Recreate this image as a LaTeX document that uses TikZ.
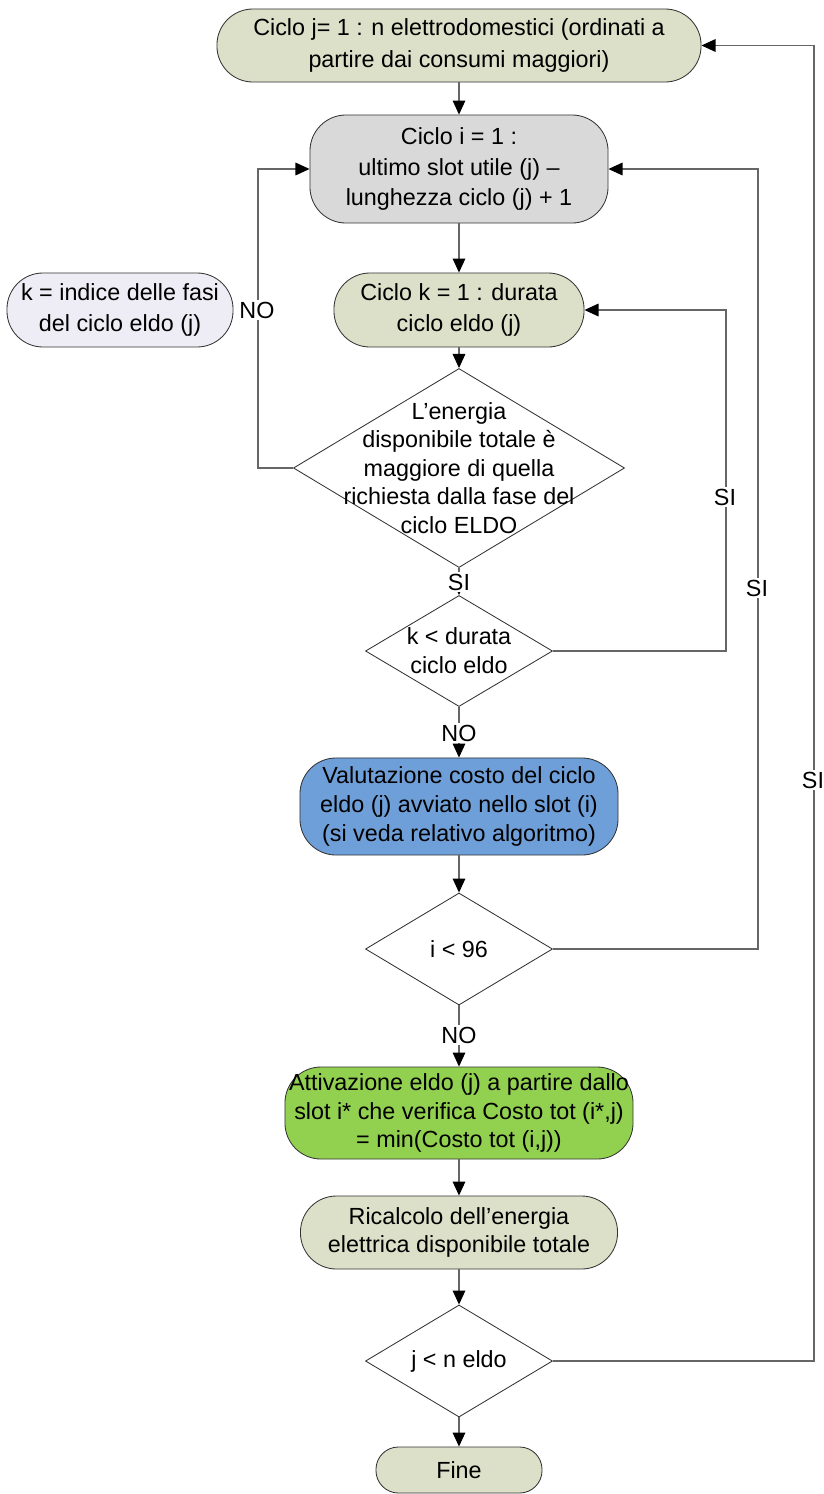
\documentclass[tikz,border=0pt]{standalone}
\usepackage{fontspec}
\setmainfont{Liberation Sans}
\usetikzlibrary{shapes.geometric,arrows.meta}

\definecolor{ciclo}{RGB}{221,224,200}
\definecolor{grigio}{RGB}{217,217,217}
\definecolor{nota}{RGB}{238,237,245}
\definecolor{blu}{RGB}{111,159,216}
\definecolor{verde}{RGB}{146,208,80}

\begin{document}
\begin{tikzpicture}[x=0.025cm,y=-0.025cm,->,>={Triangle[length=10pt,width=9pt,black]},draw=black!60,line width=0.8pt,font=\fontsize{16.6}{20.5}\selectfont]
    \tikzstyle{blocco}=[rectangle,rounded corners=0.9cm,draw=black!80,line width=0.6pt,align=center,inner sep=1pt]
    \tikzstyle{scelta}=[diamond,draw=black!80,line width=0.6pt,fill=white,inner sep=0pt,minimum width=4.675cm,minimum height=2.8cm]
    \tikzstyle{esito}=[fill=white,inner sep=1pt]

    \useasboundingbox (0,0) rectangle (823,1494);

    % Cicli annidati
    \node[blocco,fill=ciclo,minimum width=12.1cm,minimum height=1.825cm,font=\fontsize{16.6}{23}\selectfont] (cj) at (459,45.5) {Ciclo j= 1 : n elettrodomestici (ordinati a\\partire dai consumi maggiori)};
    \node[blocco,fill=grigio,minimum width=7.45cm,minimum height=2.7cm,font=\fontsize{16.6}{22}\selectfont] (ci) at (459,169) {Ciclo i = 1 :\\ultimo slot utile (j) –\\lunghezza ciclo (j) + 1};
    \node[blocco,fill=ciclo,minimum width=6.25cm,minimum height=1.85cm,font=\fontsize{16.6}{21.5}\selectfont] (ck) at (459,310) {Ciclo k = 1 : durata\\ciclo eldo (j)};
    \node[blocco,fill=nota,minimum width=5.65cm,minimum height=1.85cm,font=\fontsize{16.6}{21.5}\selectfont] (kdef) at (120,310) {k = indice delle fasi\\del ciclo eldo (j)};

    % Controlli sull'energia e sulle fasi
    \node[scelta,minimum width=8.275cm,minimum height=4.975cm,label={[align=center,font=\fontsize{16.6}{20.2}\selectfont]center:L’energia\\disponibile totale è\\maggiore di quella\\richiesta dalla fase del\\ciclo ELDO}] (en) at (459,468) {};
    \node[scelta,minimum height=2.775cm,label={[align=center]center:k < durata\\ciclo eldo}] (kd) at (459,651) {};

    \node[blocco,fill=blu,minimum width=7.95cm,minimum height=2.425cm] (val) at (459,806.5) {Valutazione costo del ciclo\\eldo (j) avviato nello slot (i)\\(si veda relativo algoritmo)};
    \node[scelta,label={center:i < 96}] (i96) at (459,949) {};

    \node[blocco,fill=verde,minimum width=8.7cm,minimum height=2.3cm] (att) at (459,1113) {Attivazione eldo (j) a partire dallo\\slot i* che verifica Costo tot (i*,j)\\= min(Costo tot (i,j))};
    \node[blocco,fill=ciclo,minimum width=7.925cm,minimum height=1.825cm] (ric) at (459,1232.5) {Ricalcolo dell’energia\\elettrica disponibile totale};
    \node[scelta,label={center:j < n eldo}] (jn) at (459,1361) {};
    \node[blocco,fill=ciclo,rounded corners=0.56cm,minimum width=4.15cm,minimum height=1.15cm] (fine) at (459,1470) {Fine};

    % Flusso principale
    \path (cj) edge (ci);
    \path (ci) edge (ck);
    \path (ck) edge (en);
    \path (en) edge (kd);
    \path (kd) edge (val);
    \path (val) edge (i96);
    \path (i96) edge (att);
    \path (att) edge (ric);
    \path (ric) edge (jn);
    \path (jn) edge (fine);

    % Ritorni ai cicli
    \draw (en.west) -- ++(-35,0) |- (ci.west);
    \draw (kd.east) -- ++(173,0) |- (ck.east);
    \draw (i96.east) -- ++(205,0) |- (ci.east);
    \draw (jn.east) -- ++(261,0) |- (cj.east);

    % Esiti
    \node[esito] (no1) at (257,310) {NO};
    \node[esito] (si1) at (459,582) {SI};
    \node[esito] (no2) at (459,733) {NO};
    \node[esito] (si2) at (725,497) {SI};
    \node[esito] (si3) at (757,588) {SI};
    \node[esito] (no3) at (459,1035) {NO};
    \node[esito] (si4) at (813,780) {SI};

\end{tikzpicture}
\end{document}
